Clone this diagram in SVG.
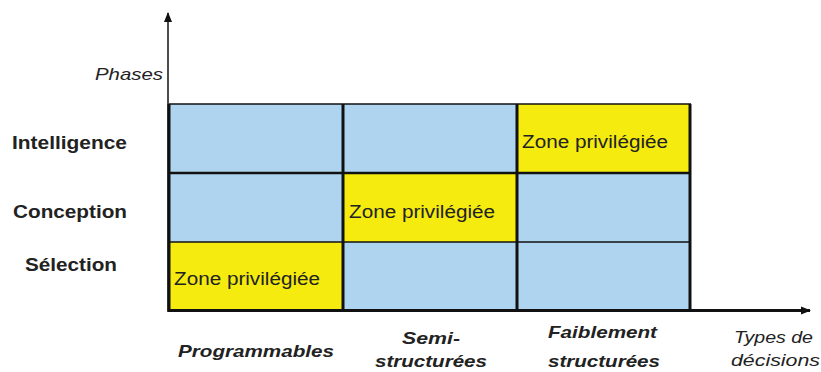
<svg xmlns="http://www.w3.org/2000/svg" width="821" height="372" viewBox="0 0 821 372">
<style>
.lbl{font-family:"Liberation Sans",Arial,sans-serif;fill:#222;}
.ph{font-size:18px;font-weight:bold;}
.zone{font-size:18px;}
.ax{font-size:17px;font-style:italic;font-weight:bold;}
.axn{font-size:17px;font-style:italic;}
.blue{fill:#AED4F0;}
.yel{fill:#F5EB0F;}
.grid{stroke:#111;fill:none;}
</style>
<defs>
<marker id="ah" viewBox="0 0 10 10" refX="9" refY="5" markerWidth="10" markerHeight="10" markerUnits="userSpaceOnUse" orient="auto">
<path d="M0,1 L10,5 L0,9 Z" fill="#111"/>
</marker>
</defs>
<g id="cells">
<rect class="blue" x="169" y="104" width="174" height="69"/>
<rect class="blue" x="343" y="104" width="174" height="69"/>
<rect class="yel" x="517" y="104" width="174" height="69"/>
<rect class="blue" x="169" y="173" width="174" height="69"/>
<rect class="yel" x="343" y="173" width="174" height="69"/>
<rect class="blue" x="517" y="173" width="174" height="69"/>
<rect class="yel" x="169" y="242" width="174" height="69"/>
<rect class="blue" x="343" y="242" width="174" height="69"/>
<rect class="blue" x="517" y="242" width="174" height="69"/>
</g>
<g id="gridlines" class="grid">
<line x1="169" y1="104" x2="691" y2="104" stroke-width="1.5"/>
<line x1="169" y1="173" x2="691" y2="173" stroke-width="2.5"/>
<line x1="169" y1="242" x2="691" y2="242" stroke-width="1.5"/>
<line x1="343" y1="104" x2="343" y2="312" stroke-width="3"/>
<line x1="517" y1="104" x2="517" y2="312" stroke-width="3"/>
<line x1="690" y1="104" x2="690" y2="312" stroke-width="3"/>
<line x1="169" y1="104" x2="169" y2="311" stroke-width="3"/>
</g>
<g id="connectors">
<line x1="168" y1="312" x2="168" y2="13" stroke="#111" stroke-width="1.5" marker-end="url(#ah)"/>
<line x1="168" y1="310.5" x2="810" y2="310.5" stroke="#111" stroke-width="3" marker-end="url(#ah)"/>
</g>
<g id="zone-intelligence"><text class="lbl zone" x="522" y="148" textLength="146" lengthAdjust="spacingAndGlyphs">Zone privilégiée</text></g>
<g id="zone-conception"><text class="lbl zone" x="349" y="218" textLength="146" lengthAdjust="spacingAndGlyphs">Zone privilégiée</text></g>
<g id="zone-selection"><text class="lbl zone" x="174" y="285" textLength="146" lengthAdjust="spacingAndGlyphs">Zone privilégiée</text></g>
<g id="y-labels">
<text class="lbl axn" x="95" y="80" textLength="68" lengthAdjust="spacingAndGlyphs">Phases</text>
<text class="lbl ph" x="12" y="149" textLength="115" lengthAdjust="spacingAndGlyphs">Intelligence</text>
<text class="lbl ph" x="13" y="218" textLength="114" lengthAdjust="spacingAndGlyphs">Conception</text>
<text class="lbl ph" x="25" y="271" textLength="92" lengthAdjust="spacingAndGlyphs">Sélection</text>
</g>
<g id="x-labels">
<text class="lbl ax" x="178" y="357" textLength="156" lengthAdjust="spacingAndGlyphs">Programmables</text>
<text class="lbl ax" x="402" y="344" textLength="58" lengthAdjust="spacingAndGlyphs">Semi-</text>
<text class="lbl ax" x="375" y="367" textLength="112" lengthAdjust="spacingAndGlyphs">structurées</text>
<text class="lbl ax" x="548" y="338" textLength="109" lengthAdjust="spacingAndGlyphs">Faiblement</text>
<text class="lbl ax" x="548" y="367" textLength="112" lengthAdjust="spacingAndGlyphs">structurées</text>
<text class="lbl axn" x="734" y="343" textLength="79" lengthAdjust="spacingAndGlyphs">Types de</text>
<text class="lbl axn" x="731" y="366" textLength="89" lengthAdjust="spacingAndGlyphs">décisions</text>
</g>
</svg>
